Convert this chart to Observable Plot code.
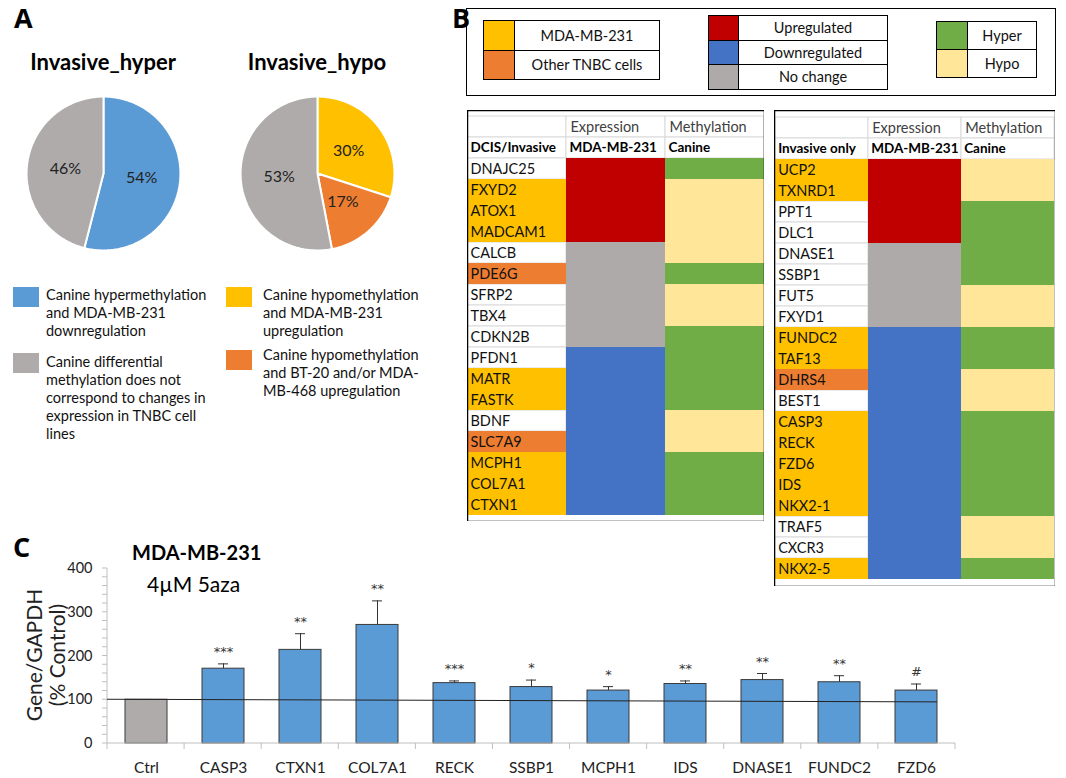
<!DOCTYPE html>
<html><head><meta charset="utf-8">
<script src="https://cdn.jsdelivr.net/npm/d3@7"></script>
<script src="https://cdn.jsdelivr.net/npm/@observablehq/plot@0.6"></script>
<style>
body{margin:0;background:#fff;font-family:Lato,"Open Sans",sans-serif;color:#000}
#root{position:relative;width:1066px;height:778px;overflow:hidden;background:#fff}
.abs{position:absolute}
.panel{font-weight:700;font-size:27px;line-height:30px;font-family:"Open Sans",Lato,sans-serif}
.ptitle{font-weight:700;font-size:22px;white-space:nowrap}
.leg{font-size:14.5px;line-height:18px;color:#111}
.sw{position:absolute;width:26px;height:20px}
.lbox{position:absolute;box-sizing:border-box;border:1px solid #000;font-size:14.5px;display:flex;align-items:center;justify-content:center;background:#fff;color:#111}
</style></head><body><div id="root"></div>
<script>
// ---------- Panel A data ----------
const hyperTitle = "Invasive_hyper";
const hypoTitle = "Invasive_hypo";
const hyperValues = [54, 46];
const hyperColors = ["#5B9BD5", "#AFABAB"];
const hypoValues = [30, 17, 53];
const hypoColors = ["#FFC000", "#ED7D31", "#AFABAB"];
const legendALabels = [
  "Canine hypermethylation<br>and MDA-MB-231<br>downregulation",
  "Canine differential<br>methylation does not<br>correspond to changes in<br>expression in TNBC cell<br>lines",
  "Canine hypomethylation<br>and MDA-MB-231<br>upregulation",
  "Canine hypomethylation<br>and BT-20 and/or MDA-<br>MB-468 upregulation"
];
const legendAColors = ["#5B9BD5", "#AFABAB", "#FFC000", "#ED7D31"];

// ---------- Panel B data ----------
const cellLegend = ["MDA-MB-231", "Other TNBC cells"];
const exprLegend = ["Upregulated", "Downregulated", "No change"];
const methLegend = ["Hyper", "Hypo"];
const cellColor = {"MDA-MB-231": "#FFC000", "Other": "#ED7D31", "": "#FFFFFF"};
const exprColor = {"Up": "#C00000", "Down": "#4472C4", "NC": "#AEAAAA"};
const methColor = {"Hyper": "#70AD47", "Hypo": "#FFE699"};
const headerRow1 = ["", "Expression", "Methylation"];
const headerRow2Left = ["DCIS/Invasive", "MDA-MB-231", "Canine"];
const headerRow2Right = ["Invasive only", "MDA-MB-231", "Canine"];

const dcisGenes = ["DNAJC25","FXYD2","ATOX1","MADCAM1","CALCB","PDE6G","SFRP2","TBX4","CDKN2B","PFDN1","MATR","FASTK","BDNF","SLC7A9","MCPH1","COL7A1","CTXN1"];
const dcisCell = ["","MDA-MB-231","MDA-MB-231","MDA-MB-231","","Other","","","","","MDA-MB-231","MDA-MB-231","","Other","MDA-MB-231","MDA-MB-231","MDA-MB-231"];
const dcisExpr = ["Up","Up","Up","Up","NC","NC","NC","NC","NC","Down","Down","Down","Down","Down","Down","Down","Down"];
const dcisMeth = ["Hyper","Hypo","Hypo","Hypo","Hypo","Hyper","Hypo","Hypo","Hyper","Hyper","Hyper","Hyper","Hypo","Hypo","Hyper","Hyper","Hyper"];

const invGenes = ["UCP2","TXNRD1","PPT1","DLC1","DNASE1","SSBP1","FUT5","FXYD1","FUNDC2","TAF13","DHRS4","BEST1","CASP3","RECK","FZD6","IDS","NKX2-1","TRAF5","CXCR3","NKX2-5"];
const invCell = ["MDA-MB-231","MDA-MB-231","","","","","","","MDA-MB-231","MDA-MB-231","Other","","MDA-MB-231","MDA-MB-231","MDA-MB-231","MDA-MB-231","MDA-MB-231","","","MDA-MB-231"];
const invExpr = ["Up","Up","Up","Up","NC","NC","NC","NC","Down","Down","Down","Down","Down","Down","Down","Down","Down","Down","Down","Down"];
const invMeth = ["Hypo","Hypo","Hyper","Hyper","Hyper","Hyper","Hypo","Hypo","Hyper","Hyper","Hypo","Hypo","Hyper","Hyper","Hyper","Hyper","Hyper","Hypo","Hypo","Hyper"];

// ---------- Panel C data ----------
const barTitle = "MDA-MB-231";
const barSubtitle = "4µM 5aza";
const barGenes = ["Ctrl","CASP3","CTXN1","COL7A1","RECK","SSBP1","MCPH1","IDS","DNASE1","FUNDC2","FZD6"];
const barValues = [100, 171, 214, 271, 138, 129, 121, 136, 145, 140, 121];
const barSem = [0, 11, 37, 55, 5, 16, 9, 7, 15, 15, 15];
const barSig = ["", "***", "**", "**", "***", "*", "*", "**", "**", "**", "#"];
const barColors = ["#AFABAB","#5B9BD5","#5B9BD5","#5B9BD5","#5B9BD5","#5B9BD5","#5B9BD5","#5B9BD5","#5B9BD5","#5B9BD5","#5B9BD5"];
const refLine = [100, 94];
const yTicks = [0, 100, 200, 300, 400];
const yMinorTicks = d3.range(0, 401, 20);
const yAxisTitle = ["Gene/GAPDH", "(% Control)"];

const root = document.getElementById("root");
function place(el, left, top) {
  const d = document.createElement("div");
  d.className = "abs";
  d.style.left = left + "px"; d.style.top = top + "px";
  d.appendChild(el);
  root.appendChild(d);
  return d;
}
function html(str, left, top, cls, style) {
  const d = document.createElement("div");
  d.className = "abs " + (cls || "");
  d.style.left = left + "px"; d.style.top = top + "px";
  if (style) Object.assign(d.style, style);
  d.innerHTML = str;
  root.appendChild(d);
  return d;
}

// ---------- Panel letters & titles ----------
html("A", 14, 3, "panel");
html("B", 452, 3, "panel");
html("C", 13, 532, "panel");
html(hyperTitle, 103, 48, "ptitle", {transform: "translateX(-50%)"});
html(hypoTitle, 317, 48, "ptitle", {transform: "translateX(-50%)"});

function pie(values, colors) {
  const arcs = d3.pie().sort(null)(values);
  const pts = [], lab = [];
  arcs.forEach((a, i) => {
    const n = Math.max(2, Math.ceil((a.endAngle - a.startAngle) / (Math.PI / 180)));
    pts.push({s: i, x: 0, y: 0, c: colors[i]});
    for (let k = 0; k <= n; k++) {
      const t = a.startAngle + (a.endAngle - a.startAngle) * k / n;
      pts.push({s: i, x: Math.sin(t), y: Math.cos(t), c: colors[i]});
    }
    pts.push({s: i, x: 0, y: 0, c: colors[i]});
    const m = (a.startAngle + a.endAngle) / 2;
    lab.push({x: 0.5 * Math.sin(m), y: 0.5 * Math.cos(m), t: values[i] + "%"});
  });
  return Plot.plot({
    width: 160, height: 160, margin: 0,
    style: {background: "transparent", fontFamily: "Lato, sans-serif"},
    x: {domain: [-1.04, 1.04], axis: null},
    y: {domain: [-1.04, 1.04], axis: null},
    color: {type: "identity"},
    marks: [
      Plot.line(pts, {x: "x", y: "y", z: "s", fill: "c", stroke: "white", strokeWidth: 2, strokeLinejoin: "miter"}),
      Plot.text(lab, {x: "x", y: "y", text: "t", fontSize: 16, fill: "#222"})
    ]
  });
}
place(pie(hyperValues, hyperColors), 23, 93);
place(pie(hypoValues, hypoColors), 237, 93);

// legend A
const legAPos = [[13, 287, 46, 286], [13, 353, 46, 353], [226, 287, 263, 286], [226, 350, 263, 346]];
legendALabels.forEach((t, i) => {
  const [sx, sy, tx, ty] = legAPos[i];
  const s = document.createElement("div");
  s.className = "sw"; s.style.left = sx + "px"; s.style.top = sy + "px"; s.style.background = legendAColors[i];
  root.appendChild(s);
  html(t, tx, ty, "leg", {whiteSpace: "nowrap"});
});

// ---------- Panel B legend ----------
html("", 466, 8, "", {width: "590px", height: "88px", boxSizing: "border-box", border: "1.5px solid #000"});
function legGroup(labels, colors, x, y, sw, tw, rh) {
  labels.forEach((l, i) => {
    const s = document.createElement("div");
    s.className = "lbox";
    Object.assign(s.style, {left: x + "px", top: (y + i * rh) + "px", width: (sw + 1) + "px", height: (rh + 1) + "px", background: colors[i]});
    root.appendChild(s);
    const t = document.createElement("div");
    t.className = "lbox";
    Object.assign(t.style, {left: (x + sw) + "px", top: (y + i * rh) + "px", width: (tw + 1) + "px", height: (rh + 1) + "px"});
    t.textContent = l;
    root.appendChild(t);
  });
}
legGroup(cellLegend, [cellColor["MDA-MB-231"], cellColor["Other"]], 483, 20, 31, 145, 29.5);
legGroup(exprLegend, [exprColor.Up, exprColor.Down, exprColor.NC], 708, 15, 30, 149, 24.5);
legGroup(methLegend, [methColor.Hyper, methColor.Hypo], 936, 21, 31, 69, 28);

// ---------- Panel B tables ----------
function table(genes, cells, expr, meth, header2, width, height) {
  const cols = ["g", "e", "m"];
  const rows = ["h1", "h2", ...genes];
  const body = [];
  genes.forEach((g, i) => {
    body.push({col: "g", row: g, fill: cellColor[cells[i]], t: g});
    body.push({col: "e", row: g, fill: exprColor[expr[i]], t: ""});
    body.push({col: "m", row: g, fill: methColor[meth[i]], t: ""});
  });
  const head = [];
  cols.forEach((c, j) => {
    head.push({col: c, row: "h1", fill: "#FFFFFF", t: headerRow1[j], b: false});
    head.push({col: c, row: "h2", fill: "#FFFFFF", t: header2[j], b: true});
  });
  const bw = width / 3;
  const white = body.filter(d => d.fill === "#FFFFFF");
  const colored = body.filter(d => d.fill !== "#FFFFFF");
  return Plot.plot({
    width, height, margin: 0,
    style: {background: "transparent", fontFamily: "Lato, sans-serif"},
    x: {type: "band", domain: cols, padding: 0, axis: null},
    y: {type: "band", domain: rows, padding: 0, axis: null},
    color: {type: "identity"},
    marks: [
      Plot.cell(head, {x: "col", y: "row", fill: "fill", stroke: "#D9D9D9", inset: 0}),
      Plot.cell(white, {x: "col", y: "row", fill: "fill", stroke: "#D9D9D9", inset: 0}),
      Plot.cell(colored, {x: "col", y: "row", fill: "fill", inset: 0}),
      Plot.text(head.filter(d => !d.b), {x: "col", y: "row", text: "t", textAnchor: "start", dx: -bw / 2 + 4, fontSize: 14.5, fill: "#404040"}),
      Plot.text(head.filter(d => d.b), {x: "col", y: "row", text: "t", textAnchor: "start", dx: -bw / 2 + 3, fontSize: 13.5, fontWeight: "bold", fill: "#000", letterSpacing: "-0.2px"}),
      Plot.text(body.filter(d => d.t), {x: "col", y: "row", text: "t", textAnchor: "start", dx: -bw / 2 + 3, fontSize: 14.5, fill: "#111"}),
      Plot.frame({stroke: "#000", strokeWidth: 1.5})
    ]
  });
}
place(table(dcisGenes, dcisCell, dcisExpr, dcisMeth, headerRow2Left, 297, 411), 467, 110);
place(table(invGenes, invCell, invExpr, invMeth, headerRow2Right, 281, 476), 774, 110);

// ---------- Panel C ----------
const bars = barGenes.map((g, i) => ({gene: g, value: barValues[i], err: barValues[i] + barSem[i], sig: barSig[i], color: barColors[i]}));
const withErr = bars.filter(d => d.sig !== "");
const chart = Plot.plot({
  width: 965, height: 215,
  marginLeft: 107, marginRight: 10, marginTop: 8, marginBottom: 32,
  style: {background: "transparent", fontFamily: "Lato, sans-serif", overflow: "visible"},
  x: {type: "band", domain: barGenes, paddingInner: 0.45, paddingOuter: 0.225, axis: null, label: null},
  y: {domain: [0, 400], axis: null, label: null},
  color: {type: "identity"},
  marks: [
    Plot.barY(bars, {x: "gene", y: "value", fill: "color", stroke: "#3a3a3a", strokeWidth: 1}),
    Plot.ruleX(withErr, {x: "gene", y1: "value", y2: "err", stroke: "#333", strokeWidth: 1}),
    Plot.tickY(withErr, {x: "gene", y: "err", insetLeft: 16, insetRight: 16, stroke: "#333", strokeWidth: 1}),
    Plot.text(withErr, {x: "gene", y: "err", text: "sig", dy: -12, fontSize: 13, fontFamily: "DejaVu Sans", fill: "#333"}),
    Plot.axisY({ticks: yTicks, tickSize: 0, tickPadding: 15, fontSize: 14.5, fill: "#222", label: null}),
    Plot.axisX({tickSize: 0, tickPadding: 18, fontSize: 15.5, fill: "#222", label: null}),
    (index, scales, values, dims) => {
      const g = d3.create("svg:g");
      const {marginLeft: l, marginRight: r, marginBottom: b, width: w, height: h} = dims;
      const y0 = h - b;
      const n = barGenes.length;
      const step = (w - l - r) / n;
      const ax = "#BFBFBF";
      g.append("line").attr("x1", l).attr("x2", l).attr("y1", scales.y(400)).attr("y2", y0).attr("stroke", ax);
      g.append("line").attr("x1", l).attr("x2", w - r).attr("y1", y0).attr("y2", y0).attr("stroke", ax);
      for (const v of yMinorTicks) g.append("line").attr("x1", l - 5).attr("x2", l).attr("y1", scales.y(v)).attr("y2", scales.y(v)).attr("stroke", ax);
      for (let i = 0; i <= n; i++) g.append("line").attr("x1", l + i * step).attr("x2", l + i * step).attr("y1", y0).attr("y2", y0 + 6).attr("stroke", ax);
      const xs = scales.x;
      const xEnd = xs(barGenes[n - 1]) + (xs.bandwidth ? xs.bandwidth() : 0);
      g.append("line").attr("x1", l).attr("x2", xEnd).attr("y1", scales.y(refLine[0])).attr("y2", scales.y(refLine[1])).attr("stroke", "#222").attr("stroke-width", 1);
      return g.node();
    }
  ]
});
place(chart, 0, 560);
html(barTitle, 132, 540, "", {fontWeight: 700, fontSize: "20px", whiteSpace: "nowrap"});
html(barSubtitle, 147, 571, "", {fontSize: "21px", whiteSpace: "nowrap"});
html(yAxisTitle.join("<br>"), -35, 632, "", {width: "160px", height: "46px", lineHeight: "23px", fontSize: "21px", textAlign: "center", transform: "rotate(-90deg)", whiteSpace: "nowrap", color: "#222"});
</script></body></html>
